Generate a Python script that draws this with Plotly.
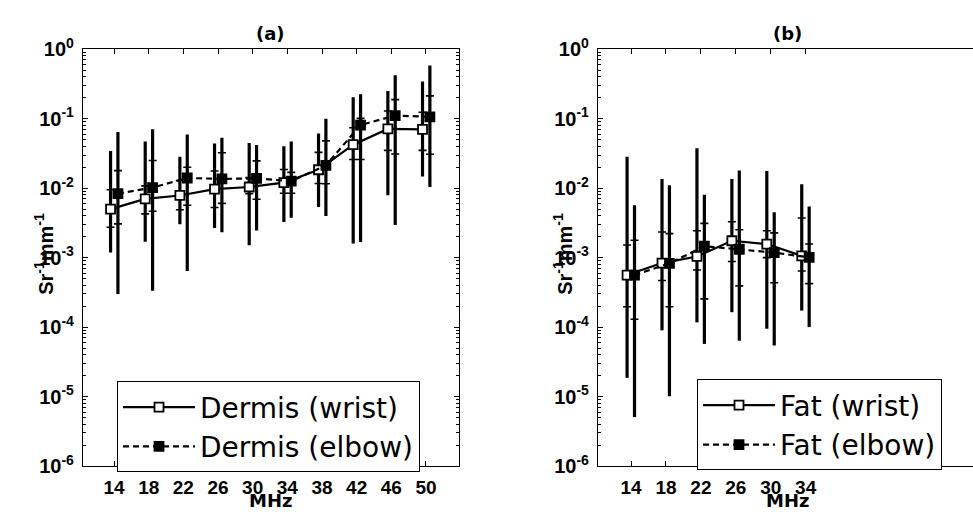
import plotly.graph_objects as go

# ---------------- data ----------------
freq_a = [14, 18, 22, 26, 30, 34, 38, 42, 46, 50]
freq_b = [14, 18, 22, 26, 30, 34]

# Panel (a) Dermis wrist
dw_mean = [5.0e-3, 7.0e-3, 7.85e-3, 9.7e-3, 1.04e-2, 1.2e-2, 1.84e-2, 4.23e-2, 7.13e-2, 7.0e-2]
dw_sdhi = [9.5e-3, 1.08e-2, 1.29e-2, 1.77e-2, 1.42e-2, 1.86e-2, 3.27e-2, 7.41e-2, 1.29e-1, 1.24e-1]
dw_sdlo = [2.74e-3, 4.27e-3, 4.89e-3, 5.27e-3, 8.3e-3, 8.46e-3, 1.17e-2, 2.58e-2, 3.5e-2, 3.5e-2]
dw_max = [3.42e-2, 4.69e-2, 2.83e-2, 4.4e-2, 4.45e-2, 4.0e-2, 6.1e-2, 2.03e-1, 2.5e-1, 3.42e-1]
dw_min = [1.19e-3, 1.69e-3, 3.02e-3, 2.66e-3, 1.51e-3, 3.27e-3, 5.37e-3, 1.6e-3, 7.9e-3, 1.47e-2]

# Panel (a) Dermis elbow
de_mean = [8.36e-3, 1.02e-2, 1.4e-2, 1.36e-2, 1.38e-2, 1.26e-2, 2.13e-2, 8.1e-2, 1.11e-1, 1.065e-1]
de_sdhi = [1.79e-2, 2.5e-2, 2.0e-2, 3.24e-2, 2.47e-2, 1.69e-2, 4.8e-2, 1.01e-1, 1.88e-1, 2.13e-1]
de_sdlo = [3.06e-3, 4.65e-3, 5.67e-3, 6.04e-3, 6.92e-3, 8.46e-3, 1.16e-2, 2.58e-2, 3.11e-2, 3.08e-2]
de_max = [6.43e-2, 7.07e-2, 5.9e-2, 5.32e-2, 4.17e-2, 4.69e-2, 1.0e-1, 2.25e-1, 4.23e-1, 5.85e-1]
de_min = [2.99e-4, 3.35e-4, 6.43e-4, 2.32e-3, 2.46e-3, 3.74e-3, 3.97e-3, 1.68e-3, 2.95e-3, 1.04e-2]

# Panel (b) Fat wrist
fw_mean = [5.61e-4, 8.35e-4, 1.04e-3, 1.75e-3, 1.57e-3, 1.06e-3]
fw_sdhi = [1.52e-3, 2.34e-3, 2.44e-3, 3.28e-3, 2.44e-3, 3.72e-3]
fw_sdlo = [1.96e-4, 4.69e-4, 6.64e-4, 8.81e-4, 1.0e-3, 6.43e-4]
fw_max = [2.83e-2, 1.36e-2, 3.76e-2, 1.36e-2, 1.77e-2, 1.135e-2]
fw_min = [1.86e-5, 9.0e-5, 1.17e-4, 1.64e-4, 9.48e-5, 1.73e-4]

# Panel (b) Fat elbow
fe_mean = [5.61e-4, 8.28e-4, 1.46e-3, 1.32e-3, 1.18e-3, 1.01e-3]
fe_sdhi = [1.78e-3, 2.22e-3, 3.11e-3, 2.52e-3, 2.27e-3, 1.57e-3]
fe_sdlo = [1.3e-4, 1.96e-4, 2.55e-4, 3.92e-4, 4.36e-4, 4.23e-4]
fe_max = [5.67e-3, 1.1e-2, 8.02e-3, 1.8e-2, 4.5e-3, 5.44e-3]
fe_min = [5.1e-6, 1.01e-5, 5.73e-5, 6.37e-5, 5.44e-5, 1.0e-4]

ytick_vals = [1e-6, 1e-5, 1e-4, 1e-3, 1e-2, 1e-1, 1e0]
ytick_text = ["10<sup>-6</sup>", "10<sup>-5</sup>", "10<sup>-4</sup>", "10<sup>-3</sup>",
              "10<sup>-2</sup>", "10<sup>-1</sup>", "10<sup>0</sup>"]

W, H = 973, 518
FONT = "Liberation Sans, Arial, sans-serif"
WIDE = "DejaVu Sans, sans-serif"

fig = go.Figure()


def add_series(freq, mean, sdhi, sdlo, vmax, vmin, shift, xaxis, yaxis, name, dash, fill, legend):
    xs = [f + shift for f in freq]
    # full range bar
    fig.add_trace(go.Scatter(
        x=xs, y=mean, mode="markers", marker=dict(size=1, opacity=0),
        error_y=dict(type="data", symmetric=False,
                     array=[h - m for h, m in zip(vmax, mean)],
                     arrayminus=[m - l for l, m in zip(vmin, mean)],
                     thickness=3.2, width=0, color="black"),
        xaxis=xaxis, yaxis=yaxis, showlegend=False, hoverinfo="skip"))
    # std ticks
    fig.add_trace(go.Scatter(
        x=xs, y=mean, mode="markers", marker=dict(size=1, opacity=0),
        error_y=dict(type="data", symmetric=False,
                     array=[h - m for h, m in zip(sdhi, mean)],
                     arrayminus=[m - l for l, m in zip(sdlo, mean)],
                     thickness=1.6, width=4, color="black"),
        xaxis=xaxis, yaxis=yaxis, showlegend=False, hoverinfo="skip"))
    # mean line
    fig.add_trace(go.Scatter(
        x=xs, y=mean, mode="lines+markers", name=name,
        line=dict(color="black", width=2.2, dash=dash),
        marker=dict(symbol="square", size=9, color=fill,
                    line=dict(color="black", width=1.8)),
        xaxis=xaxis, yaxis=yaxis, legend=legend))


add_series(freq_a, dw_mean, dw_sdhi, dw_sdlo, dw_max, dw_min, -0.4, "x", "y",
           "Dermis (wrist)", "solid", "white", "legend")
add_series(freq_a, de_mean, de_sdhi, de_sdlo, de_max, de_min, 0.45, "x", "y",
           "Dermis (elbow)", "6px,4px", "black", "legend")
add_series(freq_b, fw_mean, fw_sdhi, fw_sdlo, fw_max, fw_min, -0.45, "x2", "y2",
           "Fat (wrist)", "solid", "white", "legend2")
add_series(freq_b, fe_mean, fe_sdhi, fe_sdlo, fe_max, fe_min, 0.4, "x2", "y2",
           "Fat (elbow)", "6px,4px", "black", "legend2")

minor_vals = [m * 10.0 ** e for e in range(-6, 0) for m in range(2, 10)]

ax_common = dict(showline=True, linecolor="black", linewidth=1.2, ticks="inside",
                 ticklen=5, tickcolor="black", showgrid=False, zeroline=False,
                 tickfont=dict(family=FONT, size=19, color="black", weight="bold"))

ya_common = dict(ax_common, type="log", range=[-6, 0], tickmode="array",
                 tickvals=ytick_vals, ticktext=ytick_text, ticklabelstandoff=4,
                 tickfont=dict(family=FONT, size=20, color="black", weight="bold"),
                 minor=dict(tickmode="array", tickvals=minor_vals, ticks="inside",
                            ticklen=2.5, tickcolor="black"))

y0 = 1 - 475 / H
y1 = 1 - 37 / H

legend_common = dict(xanchor="left", yanchor="top", bgcolor="white",
                     bordercolor="black", borderwidth=1,
                     font=dict(family=WIDE, size=28, color="black"),
                     itemwidth=72, tracegroupgap=0)

fig.update_layout(
    width=W, height=H, margin=dict(l=0, r=0, t=0, b=0),
    paper_bgcolor="white", plot_bgcolor="white",
    font=dict(family=FONT, color="black"),
    xaxis=dict(ax_common, domain=[83 / W, 459 / W], range=[10.42, 53.81],
               tickmode="array", tickvals=freq_a, mirror="ticks", anchor="y",
               ticklabelstandoff=4),
    yaxis=dict(ya_common, domain=[y0, y1], mirror="ticks", anchor="x"),
    xaxis2=dict(ax_common, domain=[598 / W, 1.0], range=[10.22, 53.16],
                tickmode="array", tickvals=freq_b, mirror="ticks", anchor="y2",
                ticklabelstandoff=4),
    yaxis2=dict(ya_common, domain=[y0, y1], mirror=False, anchor="x2"),
    legend=dict(legend_common, x=117 / W, y=1 - 386 / H),
    legend2=dict(legend_common, x=697 / W, y=1 - 384 / H),
    showlegend=True,
)

annots = [
    dict(text="<b>(a)</b>", x=270 / W, y=1 - 20 / H),
    dict(text="<b>(b)</b>", x=787 / W, y=1 - 20 / H),
    dict(text="<b>MHz</b>", x=270 / W, y=1 - 511 / H),
    dict(text="<b>MHz</b>", x=787 / W, y=1 - 511 / H),
]
for a in annots:
    fig.add_annotation(text=a["text"], x=a["x"], y=a["y"], xref="paper", yref="paper",
                       xanchor="center", yanchor="middle", showarrow=False,
                       font=dict(family=WIDE, size=18, color="black"))

for xp in (44, 563):
    fig.add_annotation(text="<b>Sr<sup>-1</sup>mm<sup>-1</sup></b>", x=xp / W, y=1 - 252 / H,
                       xref="paper", yref="paper", xanchor="center", yanchor="middle",
                       showarrow=False, textangle=-90,
                       font=dict(family=FONT, size=20, color="black"))

fig.write_html("out.html")
